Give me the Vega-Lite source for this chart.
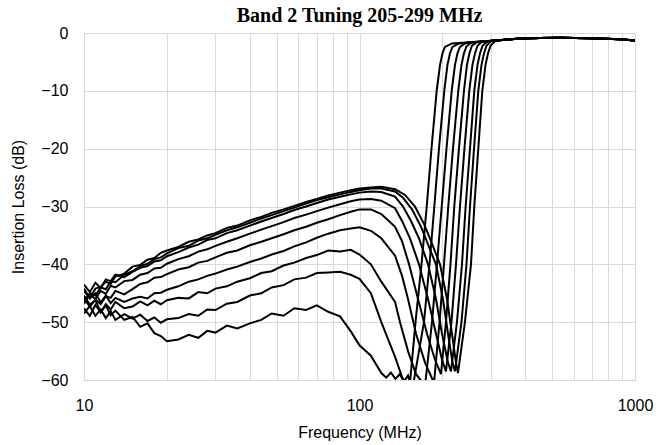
{
  "$schema": "https://vega.github.io/schema/vega-lite/v6.json",
  "width": 551,
  "height": 347,
  "autosize": {"type": "none"},
  "padding": {"left": 84, "top": 33, "right": 28, "bottom": 65},
  "background": "white",
  "title": {"text": "Band 2 Tuning 205-299 MHz", "font": "Liberation Serif", "fontSize": 20, "fontWeight": "bold", "color": "#000000", "anchor": "middle", "frame": "group", "baseline": "alphabetic", "offset": 10, "dy": 27},
  "config": {
    "view": {"stroke": "#8c8c8c", "strokeWidth": 1},
    "axis": {"labelFont": "Liberation Sans", "titleFont": "Liberation Sans", "labelFontSize": 16, "titleFontSize": 16, "labelColor": "#000000", "titleColor": "#000000", "titleFontWeight": "normal", "gridColor": "#d9d9d9", "gridWidth": 1, "ticks": false, "domain": false}
  },
  "data": {"values": [
    {"c":"1","f":10,"v":-45.4},{"c":"1","f":10.5,"v":-47.0},{"c":"1","f":11,"v":-46.2},{"c":"1","f":11.5,"v":-48.3},{"c":"1","f":12,"v":-47.1},{"c":"1","f":12.5,"v":-48.8},{"c":"1","f":13,"v":-48.0},{"c":"1","f":14,"v":-49.6},{"c":"1","f":15,"v":-49.1},{"c":"1","f":16,"v":-50.8},{"c":"1","f":17,"v":-50.2},{"c":"1","f":18,"v":-51.9},{"c":"1","f":19,"v":-52.4},{"c":"1","f":20,"v":-53.3},{"c":"1","f":22,"v":-53.0},{"c":"1","f":24,"v":-52.2},{"c":"1","f":26,"v":-52.7},{"c":"1","f":28,"v":-51.5},{"c":"1","f":30,"v":-51.8},{"c":"1","f":33,"v":-50.6},{"c":"1","f":36,"v":-51.1},{"c":"1","f":40,"v":-50.2},{"c":"1","f":44,"v":-49.6},{"c":"1","f":48,"v":-48.5},{"c":"1","f":53,"v":-48.9},{"c":"1","f":58,"v":-47.6},{"c":"1","f":64,"v":-47.9},{"c":"1","f":70,"v":-47.1},{"c":"1","f":77,"v":-48.2},{"c":"1","f":85,"v":-49.0},{"c":"1","f":93,"v":-51.6},{"c":"1","f":100,"v":-54.0},{"c":"1","f":110,"v":-55.8},{"c":"1","f":120,"v":-58.8},{"c":"1","f":125,"v":-59.6},{"c":"1","f":130,"v":-58.7},{"c":"1","f":135,"v":-59.8},{"c":"1","f":140,"v":-59.0},{"c":"1","f":145,"v":-60.3},{"c":"1","f":150,"v":-59.2},{"c":"1","f":152.5,"v":-60.5},{"c":"1","f":159.7,"v":-50},{"c":"1","f":167.9,"v":-40},{"c":"1","f":175.4,"v":-30},{"c":"1","f":182.5,"v":-20},{"c":"1","f":190.6,"v":-10},{"c":"1","f":196.0,"v":-5.5},{"c":"1","f":200.1,"v":-3.5},{"c":"1","f":204.3,"v":-2.4},{"c":"1","f":216.6,"v":-1.8},{"c":"1","f":310.4,"v":-1.3},{"c":"1","f":337.5,"v":-1.15},{"c":"1","f":382.4,"v":-0.95},{"c":"1","f":452,"v":-0.85},{"c":"1","f":534.2,"v":-0.82},{"c":"1","f":686.4,"v":-0.9},{"c":"1","f":882.3,"v":-1.1},{"c":"1","f":1000,"v":-1.3},

    {"c":"2","f":10,"v":-48.5},{"c":"2","f":10.5,"v":-47.2},{"c":"2","f":11,"v":-48.9},{"c":"2","f":11.5,"v":-47.8},{"c":"2","f":12,"v":-49.3},{"c":"2","f":12.5,"v":-48.1},{"c":"2","f":13,"v":-49.6},{"c":"2","f":14,"v":-48.6},{"c":"2","f":15,"v":-49.4},{"c":"2","f":16,"v":-48.7},{"c":"2","f":17,"v":-49.8},{"c":"2","f":18,"v":-49.2},{"c":"2","f":19,"v":-50.1},{"c":"2","f":20,"v":-49.5},{"c":"2","f":22,"v":-49.3},{"c":"2","f":24,"v":-48.6},{"c":"2","f":26,"v":-48.9},{"c":"2","f":28,"v":-47.8},{"c":"2","f":30,"v":-47.9},{"c":"2","f":33,"v":-46.8},{"c":"2","f":36,"v":-46.5},{"c":"2","f":40,"v":-45.4},{"c":"2","f":44,"v":-45.0},{"c":"2","f":48,"v":-44.0},{"c":"2","f":53,"v":-43.6},{"c":"2","f":58,"v":-42.6},{"c":"2","f":64,"v":-42.3},{"c":"2","f":70,"v":-41.5},{"c":"2","f":77,"v":-41.4},{"c":"2","f":85,"v":-41.3},{"c":"2","f":93,"v":-41.8},{"c":"2","f":100,"v":-42.5},{"c":"2","f":110,"v":-45.0},{"c":"2","f":120,"v":-50.0},{"c":"2","f":134.6,"v":-56.0},{"c":"2","f":142.7,"v":-59.5},{"c":"2","f":155.1,"v":-62.0},{"c":"2","f":171.4,"v":-50},{"c":"2","f":179.5,"v":-40},{"c":"2","f":186.9,"v":-30},{"c":"2","f":194.3,"v":-20},{"c":"2","f":203.1,"v":-10},{"c":"2","f":208.6,"v":-5.5},{"c":"2","f":213.0,"v":-3.5},{"c":"2","f":217.5,"v":-2.4},{"c":"2","f":229.6,"v":-1.8},{"c":"2","f":310.4,"v":-1.3},{"c":"2","f":337.5,"v":-1.15},{"c":"2","f":382.4,"v":-0.95},{"c":"2","f":452,"v":-0.85},{"c":"2","f":534.2,"v":-0.82},{"c":"2","f":686.4,"v":-0.9},{"c":"2","f":882.3,"v":-1.1},{"c":"2","f":1000,"v":-1.3},

    {"c":"3","f":10,"v":-47.6},{"c":"3","f":10.5,"v":-48.9},{"c":"3","f":11,"v":-47.0},{"c":"3","f":11.5,"v":-48.3},{"c":"3","f":12,"v":-46.9},{"c":"3","f":12.5,"v":-47.8},{"c":"3","f":13,"v":-46.5},{"c":"3","f":14,"v":-47.6},{"c":"3","f":15,"v":-47.3},{"c":"3","f":16,"v":-46.4},{"c":"3","f":17,"v":-47.1},{"c":"3","f":18,"v":-46.3},{"c":"3","f":19,"v":-46.9},{"c":"3","f":20,"v":-46.2},{"c":"3","f":22,"v":-45.8},{"c":"3","f":24,"v":-45.9},{"c":"3","f":26,"v":-44.8},{"c":"3","f":28,"v":-45.0},{"c":"3","f":30,"v":-44.2},{"c":"3","f":33,"v":-43.8},{"c":"3","f":36,"v":-43.0},{"c":"3","f":40,"v":-42.4},{"c":"3","f":44,"v":-41.5},{"c":"3","f":48,"v":-41.2},{"c":"3","f":53,"v":-40.2},{"c":"3","f":58,"v":-39.7},{"c":"3","f":64,"v":-38.9},{"c":"3","f":70,"v":-38.4},{"c":"3","f":77,"v":-37.6},{"c":"3","f":85,"v":-37.8},{"c":"3","f":93,"v":-37.5},{"c":"3","f":100,"v":-38.3},{"c":"3","f":110,"v":-40.0},{"c":"3","f":120,"v":-43.0},{"c":"3","f":134.6,"v":-46.5},{"c":"3","f":140.3,"v":-50.0},{"c":"3","f":150.0,"v":-55.0},{"c":"3","f":160.4,"v":-59.0},{"c":"3","f":172.9,"v":-61.0},{"c":"3","f":183.3,"v":-50},{"c":"3","f":191.1,"v":-40},{"c":"3","f":198.8,"v":-30},{"c":"3","f":206.9,"v":-20},{"c":"3","f":216.1,"v":-10},{"c":"3","f":222.1,"v":-5.5},{"c":"3","f":226.8,"v":-3.5},{"c":"3","f":231.6,"v":-2.4},{"c":"3","f":243.4,"v":-1.7},{"c":"3","f":310.4,"v":-1.3},{"c":"3","f":337.5,"v":-1.15},{"c":"3","f":382.4,"v":-0.95},{"c":"3","f":452,"v":-0.85},{"c":"3","f":534.2,"v":-0.82},{"c":"3","f":686.4,"v":-0.9},{"c":"3","f":882.3,"v":-1.1},{"c":"3","f":1000,"v":-1.3},

    {"c":"4","f":10,"v":-44.2},{"c":"4","f":10.5,"v":-45.9},{"c":"4","f":11,"v":-45.0},{"c":"4","f":11.5,"v":-46.6},{"c":"4","f":12,"v":-45.4},{"c":"4","f":12.5,"v":-46.7},{"c":"4","f":13,"v":-45.8},{"c":"4","f":14,"v":-46.5},{"c":"4","f":15,"v":-45.9},{"c":"4","f":16,"v":-45.6},{"c":"4","f":17,"v":-45.9},{"c":"4","f":18,"v":-45.0},{"c":"4","f":19,"v":-44.9},{"c":"4","f":20,"v":-44.4},{"c":"4","f":22,"v":-43.8},{"c":"4","f":24,"v":-43.0},{"c":"4","f":26,"v":-42.6},{"c":"4","f":28,"v":-42.0},{"c":"4","f":30,"v":-41.6},{"c":"4","f":33,"v":-40.9},{"c":"4","f":36,"v":-40.4},{"c":"4","f":40,"v":-39.6},{"c":"4","f":44,"v":-39.0},{"c":"4","f":48,"v":-38.3},{"c":"4","f":53,"v":-37.7},{"c":"4","f":58,"v":-36.9},{"c":"4","f":64,"v":-36.2},{"c":"4","f":70,"v":-35.4},{"c":"4","f":77,"v":-34.7},{"c":"4","f":85,"v":-34.1},{"c":"4","f":93,"v":-33.8},{"c":"4","f":100,"v":-33.6},{"c":"4","f":110,"v":-34.2},{"c":"4","f":120,"v":-35.5},{"c":"4","f":134.6,"v":-38.5},{"c":"4","f":142.7,"v":-42.0},{"c":"4","f":150.0,"v":-46.0},{"c":"4","f":160.4,"v":-52.0},{"c":"4","f":172.9,"v":-57.0},{"c":"4","f":186.4,"v":-60.5},{"c":"4","f":195.2,"v":-50},{"c":"4","f":202.6,"v":-40},{"c":"4","f":210.0,"v":-30},{"c":"4","f":218.4,"v":-20},{"c":"4","f":228.3,"v":-10},{"c":"4","f":234.5,"v":-5.5},{"c":"4","f":239.4,"v":-3.5},{"c":"4","f":244.5,"v":-2.3},{"c":"4","f":256.0,"v":-1.6},{"c":"4","f":310.4,"v":-1.3},{"c":"4","f":337.5,"v":-1.15},{"c":"4","f":382.4,"v":-0.95},{"c":"4","f":452,"v":-0.85},{"c":"4","f":534.2,"v":-0.82},{"c":"4","f":686.4,"v":-0.9},{"c":"4","f":882.3,"v":-1.1},{"c":"4","f":1000,"v":-1.3},

    {"c":"5","f":10,"v":-45.9},{"c":"5","f":10.5,"v":-47.3},{"c":"5","f":11,"v":-46.1},{"c":"5","f":11.5,"v":-46.9},{"c":"5","f":12,"v":-45.5},{"c":"5","f":12.5,"v":-45.8},{"c":"5","f":13,"v":-44.6},{"c":"5","f":14,"v":-45.2},{"c":"5","f":15,"v":-44.3},{"c":"5","f":16,"v":-43.4},{"c":"5","f":17,"v":-43.1},{"c":"5","f":18,"v":-42.3},{"c":"5","f":19,"v":-42.2},{"c":"5","f":20,"v":-41.7},{"c":"5","f":22,"v":-40.9},{"c":"5","f":24,"v":-40.5},{"c":"5","f":26,"v":-39.7},{"c":"5","f":28,"v":-39.4},{"c":"5","f":30,"v":-38.8},{"c":"5","f":33,"v":-38.0},{"c":"5","f":36,"v":-37.6},{"c":"5","f":40,"v":-36.7},{"c":"5","f":44,"v":-36.1},{"c":"5","f":48,"v":-35.5},{"c":"5","f":53,"v":-34.8},{"c":"5","f":58,"v":-34.1},{"c":"5","f":64,"v":-33.5},{"c":"5","f":70,"v":-32.8},{"c":"5","f":77,"v":-32.2},{"c":"5","f":85,"v":-31.5},{"c":"5","f":93,"v":-30.9},{"c":"5","f":100,"v":-30.5},{"c":"5","f":110,"v":-30.5},{"c":"5","f":120,"v":-31.3},{"c":"5","f":134.6,"v":-33.5},{"c":"5","f":142.7,"v":-36.0},{"c":"5","f":151.3,"v":-40.0},{"c":"5","f":163.1,"v":-46.0},{"c":"5","f":175.8,"v":-52.0},{"c":"5","f":188.0,"v":-56.5},{"c":"5","f":197.6,"v":-59.0},{"c":"5","f":206.0,"v":-50},{"c":"5","f":213.9,"v":-40},{"c":"5","f":220.8,"v":-30},{"c":"5","f":229.6,"v":-20},{"c":"5","f":239.4,"v":-10},{"c":"5","f":245.5,"v":-5.5},{"c":"5","f":250.7,"v":-3.5},{"c":"5","f":256.0,"v":-2.2},{"c":"5","f":267.0,"v":-1.6},{"c":"5","f":310.4,"v":-1.3},{"c":"5","f":337.5,"v":-1.15},{"c":"5","f":382.4,"v":-0.95},{"c":"5","f":452,"v":-0.85},{"c":"5","f":534.2,"v":-0.82},{"c":"5","f":686.4,"v":-0.9},{"c":"5","f":882.3,"v":-1.1},{"c":"5","f":1000,"v":-1.3},

    {"c":"6","f":10,"v":-46.8},{"c":"6","f":10.5,"v":-45.2},{"c":"6","f":11,"v":-46.0},{"c":"6","f":11.5,"v":-44.6},{"c":"6","f":12,"v":-45.1},{"c":"6","f":12.5,"v":-43.7},{"c":"6","f":13,"v":-44.0},{"c":"6","f":14,"v":-42.9},{"c":"6","f":15,"v":-42.7},{"c":"6","f":16,"v":-41.8},{"c":"6","f":17,"v":-41.5},{"c":"6","f":18,"v":-40.7},{"c":"6","f":19,"v":-40.6},{"c":"6","f":20,"v":-39.9},{"c":"6","f":22,"v":-39.1},{"c":"6","f":24,"v":-38.6},{"c":"6","f":26,"v":-37.8},{"c":"6","f":28,"v":-37.4},{"c":"6","f":30,"v":-36.8},{"c":"6","f":33,"v":-36.1},{"c":"6","f":36,"v":-35.5},{"c":"6","f":40,"v":-34.7},{"c":"6","f":44,"v":-34.0},{"c":"6","f":48,"v":-33.4},{"c":"6","f":53,"v":-32.7},{"c":"6","f":58,"v":-32.0},{"c":"6","f":64,"v":-31.4},{"c":"6","f":70,"v":-30.8},{"c":"6","f":77,"v":-30.2},{"c":"6","f":85,"v":-29.6},{"c":"6","f":93,"v":-29.1},{"c":"6","f":100,"v":-28.8},{"c":"6","f":110,"v":-28.7},{"c":"6","f":120,"v":-29.0},{"c":"6","f":134.6,"v":-30.3},{"c":"6","f":142.7,"v":-32.5},{"c":"6","f":152.5,"v":-35.5},{"c":"6","f":164.4,"v":-40.0},{"c":"6","f":177.3,"v":-46.0},{"c":"6","f":189.5,"v":-52.0},{"c":"6","f":199.3,"v":-56.5},{"c":"6","f":206.0,"v":-58.5},{"c":"6","f":215.7,"v":-50},{"c":"6","f":224.0,"v":-40},{"c":"6","f":231.6,"v":-30},{"c":"6","f":240.4,"v":-20},{"c":"6","f":250.3,"v":-10},{"c":"6","f":257.1,"v":-5.5},{"c":"6","f":262.6,"v":-3.5},{"c":"6","f":268.1,"v":-2.2},{"c":"6","f":278.4,"v":-1.5},{"c":"6","f":310.4,"v":-1.3},{"c":"6","f":337.5,"v":-1.15},{"c":"6","f":382.4,"v":-0.95},{"c":"6","f":452,"v":-0.85},{"c":"6","f":534.2,"v":-0.82},{"c":"6","f":686.4,"v":-0.9},{"c":"6","f":882.3,"v":-1.1},{"c":"6","f":1000,"v":-1.3},

    {"c":"7","f":10,"v":-43.5},{"c":"7","f":10.5,"v":-44.8},{"c":"7","f":11,"v":-43.2},{"c":"7","f":11.5,"v":-44.1},{"c":"7","f":12,"v":-42.6},{"c":"7","f":12.5,"v":-42.9},{"c":"7","f":13,"v":-41.8},{"c":"7","f":14,"v":-42.2},{"c":"7","f":15,"v":-41.3},{"c":"7","f":16,"v":-40.6},{"c":"7","f":17,"v":-40.3},{"c":"7","f":18,"v":-39.5},{"c":"7","f":19,"v":-39.3},{"c":"7","f":20,"v":-38.6},{"c":"7","f":22,"v":-37.9},{"c":"7","f":24,"v":-37.1},{"c":"7","f":26,"v":-36.6},{"c":"7","f":28,"v":-35.8},{"c":"7","f":30,"v":-35.5},{"c":"7","f":33,"v":-34.6},{"c":"7","f":36,"v":-34.1},{"c":"7","f":40,"v":-33.3},{"c":"7","f":44,"v":-32.6},{"c":"7","f":48,"v":-32.0},{"c":"7","f":53,"v":-31.3},{"c":"7","f":58,"v":-30.6},{"c":"7","f":64,"v":-30.0},{"c":"7","f":70,"v":-29.4},{"c":"7","f":77,"v":-28.8},{"c":"7","f":85,"v":-28.3},{"c":"7","f":93,"v":-27.9},{"c":"7","f":100,"v":-27.6},{"c":"7","f":110,"v":-27.4},{"c":"7","f":120,"v":-27.5},{"c":"7","f":134.6,"v":-28.3},{"c":"7","f":143.9,"v":-30.0},{"c":"7","f":153.8,"v":-32.5},{"c":"7","f":164.4,"v":-35.5},{"c":"7","f":177.3,"v":-40.0},{"c":"7","f":189.5,"v":-46.0},{"c":"7","f":199.3,"v":-52.0},{"c":"7","f":209.5,"v":-57.0},{"c":"7","f":214.8,"v":-58.5},{"c":"7","f":225.8,"v":-50},{"c":"7","f":235.5,"v":-40},{"c":"7","f":242.8,"v":-30},{"c":"7","f":251.8,"v":-20},{"c":"7","f":261.0,"v":-10},{"c":"7","f":268.1,"v":-5.5},{"c":"7","f":273.8,"v":-3.5},{"c":"7","f":279.6,"v":-2.2},{"c":"7","f":290.3,"v":-1.5},{"c":"7","f":310.4,"v":-1.3},{"c":"7","f":337.5,"v":-1.15},{"c":"7","f":382.4,"v":-0.95},{"c":"7","f":452,"v":-0.85},{"c":"7","f":534.2,"v":-0.82},{"c":"7","f":686.4,"v":-0.9},{"c":"7","f":882.3,"v":-1.1},{"c":"7","f":1000,"v":-1.3},

    {"c":"8","f":10,"v":-46.3},{"c":"8","f":10.5,"v":-45.0},{"c":"8","f":11,"v":-45.4},{"c":"8","f":11.5,"v":-44.0},{"c":"8","f":12,"v":-44.3},{"c":"8","f":12.5,"v":-42.9},{"c":"8","f":13,"v":-43.1},{"c":"8","f":14,"v":-41.8},{"c":"8","f":15,"v":-41.2},{"c":"8","f":16,"v":-40.3},{"c":"8","f":17,"v":-39.9},{"c":"8","f":18,"v":-39.1},{"c":"8","f":19,"v":-38.8},{"c":"8","f":20,"v":-38.1},{"c":"8","f":22,"v":-37.2},{"c":"8","f":24,"v":-36.8},{"c":"8","f":26,"v":-35.9},{"c":"8","f":28,"v":-35.5},{"c":"8","f":30,"v":-34.9},{"c":"8","f":33,"v":-34.1},{"c":"8","f":36,"v":-33.6},{"c":"8","f":40,"v":-32.8},{"c":"8","f":44,"v":-32.1},{"c":"8","f":48,"v":-31.5},{"c":"8","f":53,"v":-30.8},{"c":"8","f":58,"v":-30.2},{"c":"8","f":64,"v":-29.5},{"c":"8","f":70,"v":-28.9},{"c":"8","f":77,"v":-28.4},{"c":"8","f":85,"v":-27.9},{"c":"8","f":93,"v":-27.5},{"c":"8","f":100,"v":-27.2},{"c":"8","f":110,"v":-26.9},{"c":"8","f":120,"v":-26.9},{"c":"8","f":134.6,"v":-27.4},{"c":"8","f":143.9,"v":-28.5},{"c":"8","f":155.1,"v":-30.5},{"c":"8","f":167.2,"v":-33.5},{"c":"8","f":178.8,"v":-37.0},{"c":"8","f":189.5,"v":-40.0},{"c":"8","f":200.9,"v":-46.0},{"c":"8","f":209.5,"v":-52.0},{"c":"8","f":217.5,"v":-57.0},{"c":"8","f":222.1,"v":-58.5},{"c":"8","f":234.5,"v":-50},{"c":"8","f":244.5,"v":-40},{"c":"8","f":251.8,"v":-30},{"c":"8","f":260.4,"v":-20},{"c":"8","f":269.9,"v":-10},{"c":"8","f":277.2,"v":-5.5},{"c":"8","f":283.1,"v":-3.5},{"c":"8","f":289.1,"v":-2.2},{"c":"8","f":300.2,"v":-1.4},{"c":"8","f":337.5,"v":-1.15},{"c":"8","f":382.4,"v":-0.95},{"c":"8","f":452,"v":-0.85},{"c":"8","f":534.2,"v":-0.82},{"c":"8","f":686.4,"v":-0.9},{"c":"8","f":882.3,"v":-1.1},{"c":"8","f":1000,"v":-1.3},

    {"c":"9","f":10,"v":-44.6},{"c":"9","f":10.5,"v":-45.8},{"c":"9","f":11,"v":-44.2},{"c":"9","f":11.5,"v":-43.9},{"c":"9","f":12,"v":-43.0},{"c":"9","f":12.5,"v":-43.4},{"c":"9","f":13,"v":-42.1},{"c":"9","f":14,"v":-41.6},{"c":"9","f":15,"v":-40.4},{"c":"9","f":16,"v":-40.1},{"c":"9","f":17,"v":-39.2},{"c":"9","f":18,"v":-38.9},{"c":"9","f":19,"v":-38.0},{"c":"9","f":20,"v":-37.6},{"c":"9","f":22,"v":-37.0},{"c":"9","f":24,"v":-36.1},{"c":"9","f":26,"v":-35.7},{"c":"9","f":28,"v":-35.0},{"c":"9","f":30,"v":-34.6},{"c":"9","f":33,"v":-33.7},{"c":"9","f":36,"v":-33.3},{"c":"9","f":40,"v":-32.4},{"c":"9","f":44,"v":-31.8},{"c":"9","f":48,"v":-31.1},{"c":"9","f":53,"v":-30.5},{"c":"9","f":58,"v":-29.9},{"c":"9","f":64,"v":-29.2},{"c":"9","f":70,"v":-28.7},{"c":"9","f":77,"v":-28.1},{"c":"9","f":85,"v":-27.6},{"c":"9","f":93,"v":-27.2},{"c":"9","f":100,"v":-26.9},{"c":"9","f":110,"v":-26.7},{"c":"9","f":120,"v":-26.6},{"c":"9","f":134.6,"v":-27.0},{"c":"9","f":146.3,"v":-28.0},{"c":"9","f":159.0,"v":-30.0},{"c":"9","f":171.4,"v":-33.0},{"c":"9","f":181.8,"v":-36.0},{"c":"9","f":196.0,"v":-40.0},{"c":"9","f":207.8,"v":-46.0},{"c":"9","f":216.6,"v":-52.0},{"c":"9","f":224.0,"v":-57.0},{"c":"9","f":227.7,"v":-58.8},{"c":"9","f":241.4,"v":-50},{"c":"9","f":253.9,"v":-40},{"c":"9","f":261.0,"v":-30},{"c":"9","f":269.9,"v":-20},{"c":"9","f":279.1,"v":-10},{"c":"9","f":286.7,"v":-5.5},{"c":"9","f":292.8,"v":-3.5},{"c":"9","f":299.0,"v":-2.2},{"c":"9","f":310.4,"v":-1.4},{"c":"9","f":337.5,"v":-1.15},{"c":"9","f":382.4,"v":-0.95},{"c":"9","f":452,"v":-0.85},{"c":"9","f":534.2,"v":-0.82},{"c":"9","f":686.4,"v":-0.9},{"c":"9","f":882.3,"v":-1.1},{"c":"9","f":1000,"v":-1.3}
  ]},
  "mark": {"type": "line", "color": "#000000", "strokeWidth": 2, "clip": true},
  "encoding": {
    "x": {"field": "f", "type": "quantitative", "scale": {"type": "log", "domain": [10, 1000], "nice": false},
      "axis": {"title": "Frequency (MHz)", "values": [10,20,30,40,50,60,70,80,90,100,200,300,400,500,600,700,800,900,1000], "labelExpr": "datum.value == 10 ? '10' : datum.value == 100 ? '100' : datum.value == 1000 ? '1000' : ''", "labelPadding": 17, "titlePadding": 11, "labelFlush": false, "labelOverlap": false}},
    "y": {"field": "v", "type": "quantitative", "scale": {"domain": [-60, 0], "nice": false},
      "axis": {"title": "Insertion Loss (dB)", "values": [-60,-50,-40,-30,-20,-10,0], "labelPadding": 16, "titlePadding": 14}},
    "detail": {"field": "c", "type": "nominal"},
    "order": {"field": "f", "type": "quantitative"}
  }
}
